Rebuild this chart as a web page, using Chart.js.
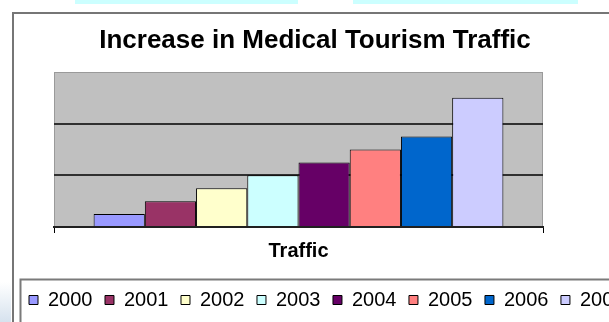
<!DOCTYPE html>
<html>
<head>
<meta charset="utf-8">
<script src="https://cdn.jsdelivr.net/npm/chart.js@4/dist/chart.umd.min.js"></script>
<style>
  html, body { margin: 0; padding: 0; background: #fff; }
  body { width: 609px; height: 322px; overflow: hidden; position: relative; }
  .strip { position: absolute; top: 0; height: 4px; background: #ccffff; }
  .corner { position: absolute; left: 0; top: 282px; width: 11px; height: 40px;
            background: linear-gradient(#ffffff, #d6e2ee); }
  #frame { position: absolute; left: 12px; top: 12px; border: 2px solid #767676; }
  #frame canvas { display: block; }
</style>
</head>
<body>
<div class="strip" style="left:75px; width:223px"></div>
<div class="strip" style="left:353px; width:225px"></div>
<div class="corner"></div>
<div id="frame"><canvas id="traffic" width="650" height="320"></canvas></div>
<script>
const categories = ['Traffic']
const years = ['2000', '2001', '2002', '2003', '2004', '2005', '2006', '2007']
const traffic = [0.25, 0.5, 0.75, 1, 1.25, 1.5, 1.75, 2.5]
const colors = ['#9999ff', '#993366', '#ffffcc', '#ccffff', '#660066', '#ff8080', '#0066cc', '#ccccff']

const font = "'Liberation Sans', Arial, sans-serif"
Chart.defaults.color = '#000'
Chart.defaults.font.family = font

// grey plot area with a thin border, like a spreadsheet chart
const plotBackground = {
  id: 'plotBackground',
  beforeDraw(chart) {
    const {ctx, chartArea: a} = chart
    ctx.save()
    ctx.fillStyle = '#c0c0c0'
    ctx.fillRect(a.left, a.top, a.right - a.left, a.bottom - a.top)
    ctx.strokeStyle = '#9a9a9a'
    ctx.lineWidth = 1
    ctx.strokeRect(a.left + 0.5, a.top + 0.5, a.right - a.left - 1, a.bottom - a.top)
    ctx.restore()
  }
}

// frame round the legend row
const legendFrame = {
  id: 'legendFrame',
  afterDraw(chart) {
    const lg = chart.legend
    const ctx = chart.ctx
    ctx.save()
    ctx.strokeStyle = '#7a7a7a'
    ctx.lineWidth = 2
    ctx.strokeRect(lg.left + 4, lg.top + 2, chart.width + 20, 200)
    ctx.restore()
  }
}

// centre the title over the frame, not over the long legend row
const titleSpan = {
  id: 'titleSpan',
  afterLayout(chart) {
    const t = chart.titleBlock
    t.right = t.left + 597
  }
}

new Chart(document.getElementById('traffic'), {
  type: 'bar',
  data: {
    labels: categories,
    datasets: years.map((y, i) => ({
      label: y,
      data: [traffic[i]],
      backgroundColor: colors[i],
      borderColor: '#000',
      borderWidth: 1,
      borderSkipped: 'bottom',
      categoryPercentage: 0.838,
      barPercentage: 1
    }))
  },
  options: {
    responsive: false,
    animation: false,
    layout: { padding: { left: 2.5, right: 0, top: 0, bottom: 14 } },
    plugins: {
      title: {
        display: true,
        text: 'Increase in Medical Tourism Traffic',
        font: { size: 26, weight: 'bold' },
        padding: { top: 11.4, bottom: 15.4 }
      },
      legend: {
        position: 'bottom',
        align: 'start',
        labels: {
          boxWidth: 9,
          boxHeight: 9,
          padding: 12.5,
          font: { size: 20 }
        }
      },
      tooltip: { enabled: false }
    },
    scales: {
      x: {
        grid: { drawOnChartArea: false, tickLength: 6, color: '#000', lineWidth: 1 },
        border: { color: '#202020', width: 2 },
        ticks: { padding: 6, font: { size: 20, weight: 'bold' } },
        afterFit: s => { s.height = 50.5 }
      },
      y: {
        min: 0,
        max: 3,
        ticks: { display: false, stepSize: 1 },
        grid: {
          drawTicks: false,
          lineWidth: 2,
          color: c => c.tick.value === 3 ? 'rgba(0,0,0,0)' : '#303030'
        },
        border: { display: false },
        afterFit: s => { s.width = 37.5 }
      },
      y2: {
        position: 'right',
        ticks: { display: false },
        grid: { display: false },
        border: { display: false },
        afterFit: s => { s.width = 121 }
      }
    }
  },
  plugins: [plotBackground, legendFrame, titleSpan]
})
</script>
</body>
</html>
